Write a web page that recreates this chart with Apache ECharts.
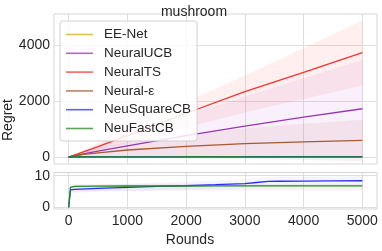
<!DOCTYPE html>
<html><head><meta charset="utf-8">
<script src="https://cdn.jsdelivr.net/npm/echarts@6/dist/echarts.min.js"></script>
<style>html,body{margin:0;padding:0;background:#fff}#c{width:382px;height:251px}</style>
</head><body><div id="c"></div>
<script>
// ---- data ----
const roundsTop = [0, 250, 500, 1000, 2000, 3000, 4000, 5000];
const eeNet     = [0, 3, 5, 7, 10, 12, 14, 15];
const neuralUCB = [0, 110, 210, 400, 760, 1100, 1420, 1720];
const ucbUpper  = [0, 210, 420, 800, 1500, 2150, 2800, 3450];
const ucbLower  = [0, 5, 5, 0, 10, 20, 20, 0];
const neuralTS  = [0, 180, 370, 760, 1560, 2330, 3020, 3720];
const tsUpper   = [0, 240, 480, 970, 1950, 2900, 3870, 4855];
const tsLower   = [0, 120, 250, 530, 1060, 1600, 2080, 2560];
const neuralEps = [0, 90, 150, 250, 380, 480, 540, 590];
const epsUpper  = [0, 180, 320, 520, 800, 1020, 1180, 1320];
const epsLower  = [0, 0, -20, -20, -40, -60, -100, -140];

const roundsBot = [0, 30, 100, 500, 1000, 1500, 2000, 2500, 3000, 3200, 3400, 3600, 4000, 4500, 5000];
const neuSquareCB = [0, 5.5, 5.7, 6.0, 6.3, 6.6, 6.85, 7.15, 7.5, 7.85, 8.2, 8.25, 8.3, 8.35, 8.4];
const sqUpper     = [0, 6.6, 6.8, 7.1, 7.4, 7.8, 8.1, 8.5, 8.9, 9.2, 9.5, 9.6, 9.6, 9.7, 9.8];
const sqLower     = [0, 4.4, 4.6, 4.9, 5.2, 5.4, 5.6, 5.8, 6.1, 6.5, 6.9, 6.9, 7.0, 7.0, 7.0];
const neuFastCB   = [0, 6.3, 6.6, 6.7, 6.75, 6.75, 6.75, 6.8, 6.8, 6.8, 6.8, 6.8, 6.8, 6.8, 6.8];
const fastUpper   = [0, 7.4, 7.4, 7.4, 7.4, 7.4, 7.4, 7.4, 7.4, 7.4, 7.4, 7.4, 7.4, 7.4, 7.4];
const fastLower   = [0, 4.8, 5.0, 5.2, 5.3, 5.4, 5.4, 5.4, 5.5, 5.5, 5.5, 5.5, 5.5, 5.5, 5.5];

const xTicks = [0, 1000, 2000, 3000, 4000, 5000];
const yTicksTop = [0, 2000, 4000];
const yTicksBot = [0, 10];
const legendNames = ['EE-Net', 'NeuralUCB', 'NeuralTS', 'Neural-\u03b5', 'NeuSquareCB', 'NeuFastCB'];

// ---- styles ----
const C = {ee:'#daa520', ucb:'#9a35b0', ts:'#ff2e2e', eps:'#a65a32', sq:'#2b2bff', fast:'#1f8a1f'};
const txt = '#262626';
const gridCol = '#dedede';
const FONT = 'Liberation Sans, Arial, sans-serif';

function pairs(xs, ys){ return xs.map((x,i)=>[x, ys[i]]); }
function line(name, xs, ys, color, gi, z){
  return {name, type:'line', xAxisIndex:gi, yAxisIndex:gi, data:pairs(xs,ys), showSymbol:false,
    lineStyle:{color, width:1.3}, itemStyle:{color}, z: z||5, silent:true};
}
function band(id, xs, lo, hi, color, opacity, gi){
  return {
    name:id, type:'custom', xAxisIndex:gi, yAxisIndex:gi, data:[[xs[0], lo[0]]], silent:true, z:2,
    encode:{x:0, y:1},
    renderItem:function(params, api){
      const pts = [];
      for (let i=0;i<xs.length;i++) pts.push(api.coord([xs[i], hi[i]]));
      for (let i=xs.length-1;i>=0;i--) pts.push(api.coord([xs[i], lo[i]]));
      return {type:'polygon', shape:{points:pts},
        style:{fill:color, opacity:opacity, stroke:color, lineWidth:0.6, strokeOpacity:0.5}};
    }
  };
}

const axisLbl = {color:txt, fontSize:14, fontFamily:FONT, formatter:function(v){return String(v);}};
const chart = echarts.init(document.getElementById('c'), null, {renderer:'canvas'});
chart.setOption({
  animation:false,
  backgroundColor:'#fff',
  textStyle:{fontFamily:FONT},
  title:{text:'mushroom', left:189, textAlign:'center', top:0,
    textStyle:{fontSize:14, fontWeight:'normal', color:txt, fontFamily:FONT}},
  grid:[
    {left:54, right:5, top:14, height:150, show:true, borderColor:'#d6d6d6', borderWidth:1, backgroundColor:'transparent'},
    {left:54, right:5, top:172.5, height:36.5, show:true, borderColor:'#d6d6d6', borderWidth:1, backgroundColor:'transparent'}
  ],
  xAxis:[
    {type:'value', gridIndex:0, min:-250, max:5250, axisLine:{show:false}, axisTick:{show:false, customValues:xTicks},
     axisLabel:{show:false, customValues:xTicks}, splitLine:{show:true, lineStyle:{color:gridCol, width:1}}},
    {type:'value', gridIndex:1, min:-250, max:5250, axisLine:{show:false}, axisTick:{show:false, customValues:xTicks},
     axisLabel:Object.assign({customValues:xTicks, margin:5}, axisLbl), splitLine:{show:true, lineStyle:{color:gridCol, width:1}}}
  ],
  yAxis:[
    {type:'value', gridIndex:0, min:-250, max:5100, axisLine:{show:false}, axisTick:{show:false, customValues:yTicksTop},
     axisLabel:Object.assign({customValues:yTicksTop, margin:4}, axisLbl), splitLine:{show:true, lineStyle:{color:gridCol, width:1}}},
    {type:'value', gridIndex:1, min:-0.5, max:11, axisLine:{show:false}, axisTick:{show:false, customValues:yTicksBot},
     axisLabel:Object.assign({customValues:yTicksBot, margin:4}, axisLbl), splitLine:{show:true, lineStyle:{color:gridCol, width:1}}}
  ],
  legend:{
    data:legendNames, orient:'vertical', left:60, top:21, icon:'rect', itemWidth:27, itemHeight:1.6, itemGap:3.8,
    padding:[6,6,5,6], backgroundColor:'rgba(255,255,255,0.85)', borderColor:'#d0d0d0', borderWidth:1, borderRadius:3,
    itemStyle:{opacity:0.75},
    textStyle:{fontSize:13.5, color:txt, fontFamily:FONT, lineHeight:15, padding:[0,0,0,6]},
    selectedMode:false, z:20
  },
  graphic:[
    {type:'text', x:8, y:120, rotation:Math.PI/2, style:{text:'Regret', fontSize:14, fill:txt, fontFamily:FONT, textAlign:'center', textVerticalAlign:'middle'}},
    {type:'text', x:190, y:240, style:{text:'Rounds', fontSize:14, fill:txt, fontFamily:FONT, textAlign:'center', textVerticalAlign:'middle'}}
  ],
  series:[
    band('tsB', roundsTop, tsLower, tsUpper, '#ff8080', 0.13, 0),
    band('ucbB', roundsTop, ucbLower, ucbUpper, '#c870d8', 0.10, 0),
    band('epsB', roundsTop, epsLower, epsUpper, '#c07060', 0.10, 0),
    line('EE-Net', roundsTop, eeNet, C.ee, 0, 4),
    line('NeuralUCB', roundsTop, neuralUCB, C.ucb, 0),
    line('NeuralTS', roundsTop, neuralTS, C.ts, 0),
    line('Neural-\u03b5', roundsTop, neuralEps, C.eps, 0),
    line('NeuSquareCB', roundsBot, neuSquareCB, C.sq, 0),
    line('NeuFastCB', roundsBot, neuFastCB, C.fast, 0, 6),
    band('sqB', roundsBot, sqLower, sqUpper, '#8080ff', 0.08, 1),
    band('fastB', roundsBot, fastLower, fastUpper, '#b8a898', 0.12, 1),
    line('NeuSquareCB', roundsBot, neuSquareCB, C.sq, 1),
    line('NeuFastCB', roundsBot, neuFastCB, C.fast, 1, 6)
  ]
});
</script></body></html>
